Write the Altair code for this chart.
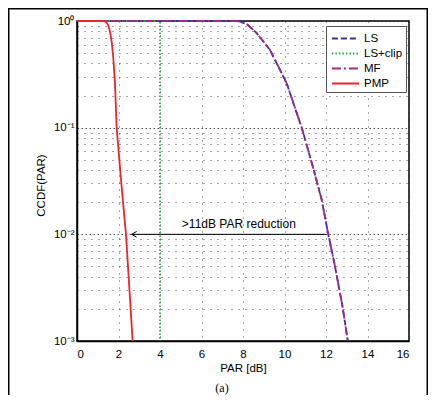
import altair as alt
import pandas as pd

# ---- data ----
series_names = ["LS", "LS+clip", "MF", "PMP"]

par_ls = [0, 7.5, 7.85, 8.2, 8.66, 9.3, 10.1, 10.83, 11.36, 11.79, 12.11, 12.43, 12.79, 13.05]
ccdf_ls = [1, 1, 0.99, 0.93, 0.77, 0.536, 0.262, 0.1, 0.0435, 0.0212, 0.01, 0.00506, 0.00214, 0.001]

par_clip = [0, 4, 4]
ccdf_clip = [1, 1, 0.001]

par_mf = [0, 7.5, 7.85, 8.2, 8.66, 9.3, 10.1, 10.83, 11.36, 11.79, 12.11, 12.43, 12.79, 13.05]
ccdf_mf = [1, 1, 0.99, 0.93, 0.77, 0.536, 0.262, 0.1, 0.0435, 0.0212, 0.01, 0.00506, 0.00214, 0.001]

par_pmp = [0, 1.30, 1.40, 1.50, 1.60, 1.68, 1.75, 1.83, 1.91, 2.13, 2.36, 2.52, 2.68]
ccdf_pmp = [1, 1, 0.98, 0.92, 0.78, 0.62, 0.45, 0.26, 0.1, 0.031, 0.01, 0.0032, 0.001]

x_ticks = [0, 2, 4, 6, 8, 10, 12, 14, 16]
y_ticks = [0.001, 0.002, 0.003, 0.004, 0.005, 0.006, 0.007, 0.008, 0.009,
           0.01, 0.02, 0.03, 0.04, 0.05, 0.06, 0.07, 0.08, 0.09,
           0.1, 0.2, 0.3, 0.4, 0.5, 0.6, 0.7, 0.8, 0.9, 1]
y_label_values = [1, 0.1, 0.01, 0.001]
y_label_texts = ["10⁰", "10⁻¹", "10⁻²", "10⁻³"]

arrow_par = [12.0, 2.63]
arrow_ccdf = [0.01, 0.01]
note_text = [">11dB PAR reduction"]
note_par = [7.8]
note_ccdf = [0.01]

caption = "(a)"

# ---- tables ----
rows = []
for name, xs, ys in [("LS", par_ls, ccdf_ls), ("LS+clip", par_clip, ccdf_clip),
                     ("MF", par_mf, ccdf_mf), ("PMP", par_pmp, ccdf_pmp)]:
    for i, (x, y) in enumerate(zip(xs, ys)):
        rows.append({"series": name, "par": x, "ccdf": y, "idx": i})
df = pd.DataFrame(rows)

arrow_df = pd.DataFrame({"par": arrow_par, "ccdf": arrow_ccdf})
head_df = pd.DataFrame({"par": arrow_par[-1:], "ccdf": arrow_ccdf[-1:]})
note_df = pd.DataFrame({"par": note_par, "ccdf": note_ccdf, "text": note_text})

label_expr = " : ".join(
    f"datum.value == {v} ? '{t}'" for v, t in zip(y_label_values, y_label_texts)
) + " : ''"
decade_test = " || ".join(f"datum.value == {v}" for v in y_label_values)

W, H = 332, 320
FONT = "Liberation Sans"

x_scale = alt.Scale(domain=[0, 16], nice=False, zero=False)
y_scale = alt.Scale(type="log", domain=[0.001, 1], nice=False)

colors = ["#34349a", "#2fa84f", "#a0288c", "#e8262f"]
dashes = [[6, 3], [1.5, 2], [9, 3, 2, 3], [1, 0]]

x_axis = alt.Axis(values=x_ticks, format="d", title="PAR [dB]", grid=True,
                  ticks=False, labelPadding=7, titlePadding=3, gridDash=[1, 6])
y_axis = alt.Axis(values=y_ticks, labelExpr=label_expr, title="CCDF(PAR)", grid=True,
                  ticks=False, labelPadding=3, titleX=-36, titleY=164,
                  titleAlign="center", titleBaseline="middle",
                  gridDash={"condition": {"test": decade_test, "value": [1.5, 2.5]},
                            "value": [1, 6]})

lines = alt.Chart(df).mark_line(strokeWidth=1.8).encode(
    x=alt.X("par:Q", scale=x_scale, axis=x_axis),
    y=alt.Y("ccdf:Q", scale=y_scale, axis=y_axis),
    color=alt.Color("series:N", scale=alt.Scale(domain=series_names, range=colors),
                    legend=alt.Legend(title=None)),
    strokeDash=alt.StrokeDash("series:N", scale=alt.Scale(domain=series_names, range=dashes),
                              legend=alt.Legend(title=None)),
    order="idx:Q",
)

arrow = alt.Chart(arrow_df).mark_line(color="black", strokeWidth=1).encode(
    x=alt.X("par:Q", scale=x_scale), y=alt.Y("ccdf:Q", scale=y_scale))

head = alt.Chart(head_df).mark_point(
    shape="M0,0L1.6,-0.9M0,0L1.6,0.9", filled=False, color="black", strokeWidth=1, size=40, opacity=1
).encode(x=alt.X("par:Q", scale=x_scale), y=alt.Y("ccdf:Q", scale=y_scale))

note = alt.Chart(note_df).mark_text(font=FONT, fontSize=12, dy=-10, color="black").encode(
    x=alt.X("par:Q", scale=x_scale), y=alt.Y("ccdf:Q", scale=y_scale), text="text:N")

frame = alt.Chart(pd.DataFrame({"a": [0]})).mark_rect(
    filled=False, stroke="black", strokeWidth=1.5
).encode(x=alt.value(-68.25), x2=alt.value(350.25), y=alt.value(-12.25), y2=alt.value(430))

cap = alt.Chart(pd.DataFrame({"a": [0]})).mark_text(
    font="Liberation Serif", fontSize=12, color="black", baseline="middle"
).encode(x=alt.value(145), y=alt.value(367), text=alt.value(caption))

chart = alt.layer(lines, arrow, head, note, frame, cap).properties(
    width=W, height=H,
    autosize=alt.AutoSizeParams(type="none"),
    padding={"left": 69, "top": 13, "right": 19, "bottom": 54},
).configure_view(stroke="black", strokeWidth=1.5).configure_axis(
    labelFont=FONT, titleFont=FONT, labelFontSize=11.5, titleFontSize=11.5,
    labelColor="black", titleColor="black", titleFontWeight="normal",
    domainColor="black", domainWidth=1.5,
    gridColor="#222", gridOpacity=0.8, gridWidth=1,
).configure_legend(
    orient="none", legendX=249, legendY=5, fillColor="white", strokeColor="#555",
    padding=3, labelFont=FONT, labelFontSize=11.5, labelColor="black",
    symbolType="M-1.6,0H1.6", symbolSize=289, symbolStrokeWidth=2,
    symbolOffset=7, rowPadding=0, labelOffset=9,
)

chart.save("out.html", embed_options={"renderer": "svg", "actions": False})
